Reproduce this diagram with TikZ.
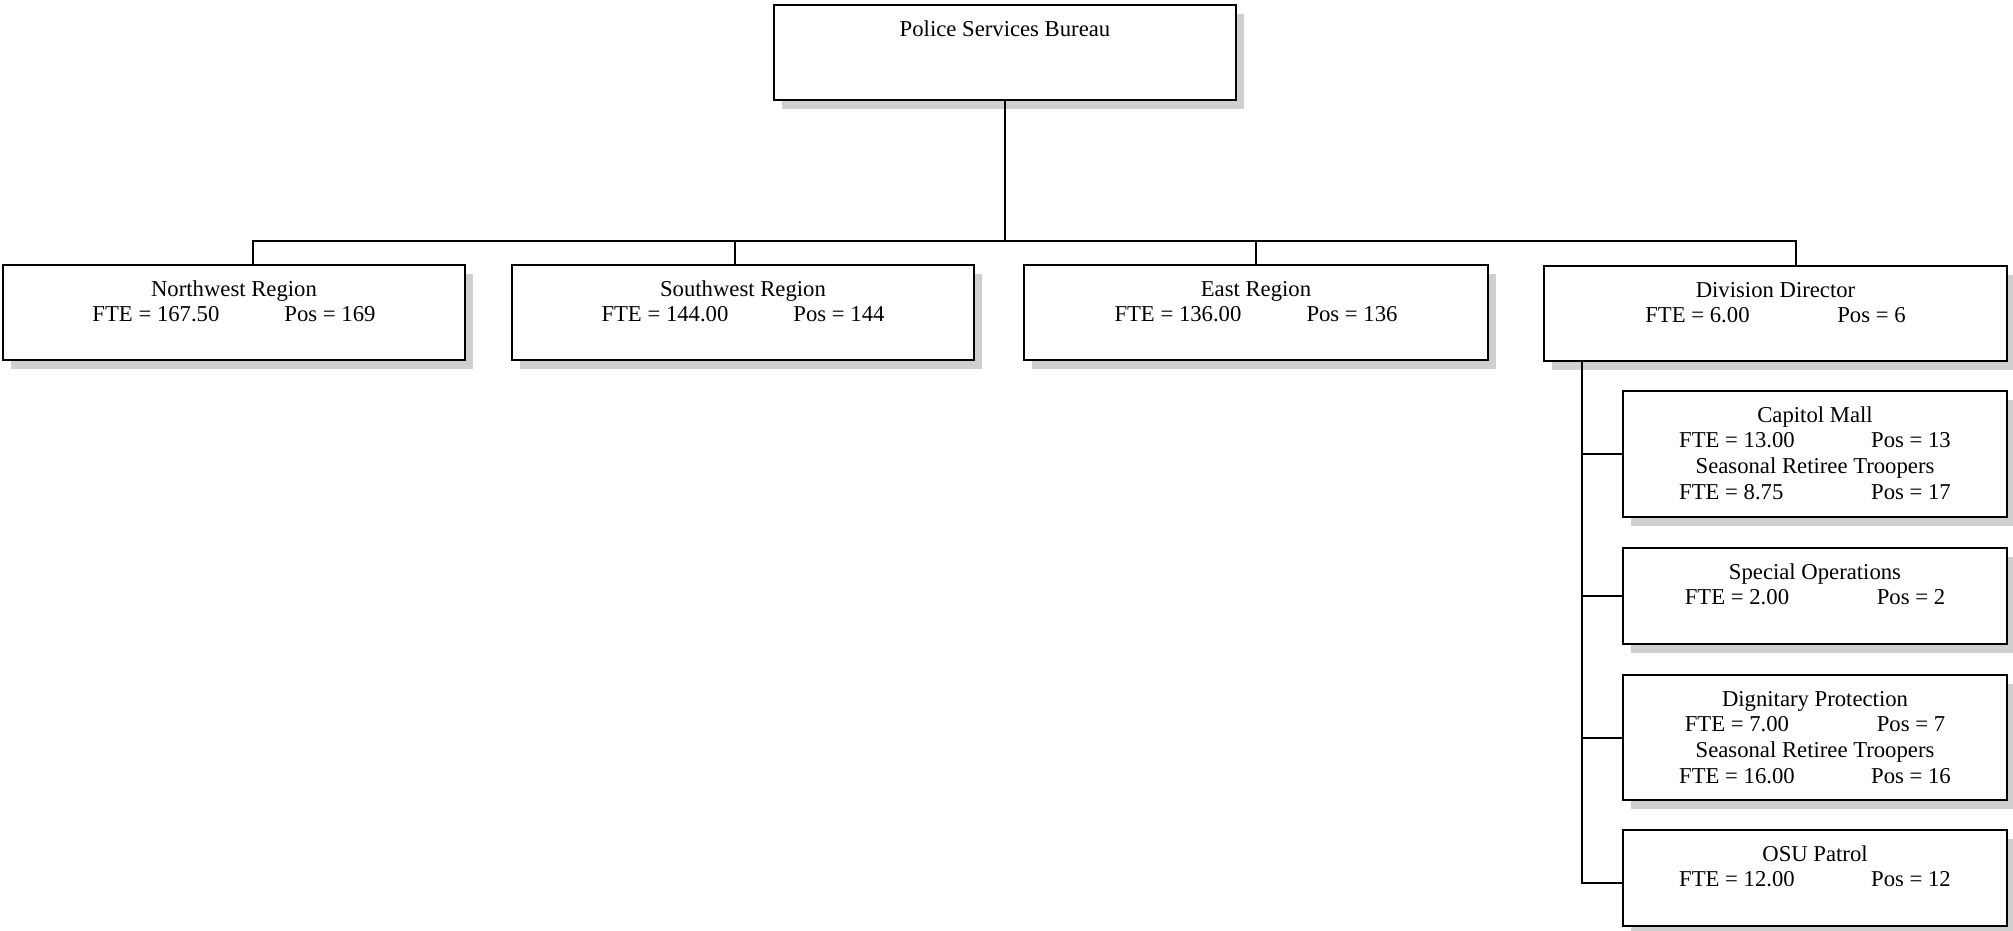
\documentclass[tikz,border=0pt]{standalone}
\usepackage{fontspec}
\setmainfont{Liberation Serif}
\usetikzlibrary{shadows}
% FTE part left-aligned in a fixed tab width, Pos part follows
\newcommand\ftepos[2]{\makebox[192pt][l]{#1}#2}
\begin{document}
\begin{tikzpicture}[x=1pt,y=-1pt,
  orgbox/.style={draw=black, line width=2pt, fill=white, inner sep=0pt,
    anchor=north west,
    drop shadow={shadow xshift=8pt, shadow yshift=-9pt, fill=gray!38, opacity=1}},
  boxtext/.style={anchor=north, inner sep=0pt, align=center,
    font=\fontsize{22.7pt}{25.6pt}\selectfont, yshift=-14.1pt},
  link/.style={line width=2pt, line cap=rect}]
\useasboundingbox[fill=white] (0,0) rectangle (2013,931);

% top of the chart
\node[orgbox, minimum width=462pt, minimum height=95pt] (psb) at (773,4) {};
\node[boxtext] (psbt) at (psb.north) {\strut Police Services Bureau};

% regions row
\node[orgbox, minimum width=462pt, minimum height=95pt] (nw) at (2,264) {};
\node[boxtext] (nwt) at (nw.north) {\strut Northwest Region\\ \ftepos{FTE = 167.50}{Pos = 169}};

\node[orgbox, minimum width=462pt, minimum height=95pt] (sw) at (511,264) {};
\node[boxtext] (swt) at (sw.north) {\strut Southwest Region\\ \ftepos{FTE = 144.00}{Pos = 144}};

\node[orgbox, minimum width=464pt, minimum height=95pt] (east) at (1023,264) {};
\node[boxtext] (eastt) at (east.north) {\strut East Region\\ \ftepos{FTE = 136.00}{Pos = 136}};

\node[orgbox, minimum width=463pt, minimum height=95pt] (dd) at (1543,265) {};
\node[boxtext] (ddt) at (dd.north) {\strut Division Director\\ \ftepos{FTE = 6.00}{Pos = 6}};

% units under the division director
\node[orgbox, minimum width=384pt, minimum height=126pt] (cm) at (1622,390) {};
\node[boxtext] (cmt) at (cm.north) {\strut Capitol Mall\\ \ftepos{FTE = 13.00}{Pos = 13}\\
  Seasonal Retiree Troopers\\ \ftepos{FTE = 8.75}{Pos = 17}};

\node[orgbox, minimum width=384pt, minimum height=96pt] (so) at (1622,547) {};
\node[boxtext] (sot) at (so.north) {\strut Special Operations\\ \ftepos{FTE = 2.00}{Pos = 2}};

\node[orgbox, minimum width=384pt, minimum height=125pt] (dp) at (1622,674) {};
\node[boxtext] (dpt) at (dp.north) {\strut Dignitary Protection\\ \ftepos{FTE = 7.00}{Pos = 7}\\
  Seasonal Retiree Troopers\\ \ftepos{FTE = 16.00}{Pos = 16}};

\node[orgbox, minimum width=384pt, minimum height=96pt] (osu) at (1622,829) {};
\node[boxtext] (osut) at (osu.north) {\strut OSU Patrol\\ \ftepos{FTE = 12.00}{Pos = 12}};

% bureau to regions
\coordinate (bus) at (1004,241);
\draw[link] (psb.south) -- (psb.south |- bus);
\draw[link] ([xshift=19pt]nw.north) |- ([xshift=20pt]dd.north |- bus) -- ([xshift=20pt]dd.north);
\draw[link] ([xshift=-8pt]sw.north) -- ([xshift=-8pt]sw.north |- bus);
\draw[link] (east.north) -- (east.north |- bus);

% division director to its units
\coordinate (spine) at ([xshift=39pt]dd.south west);
\draw[link] (spine) |- ([yshift=-5pt]osu.west);
\draw[link] (cm.west) -- (cm.west -| spine);
\draw[link] (so.west) -- (so.west -| spine);
\draw[link] (dp.west) -- (dp.west -| spine);
\end{tikzpicture}
\end{document}
